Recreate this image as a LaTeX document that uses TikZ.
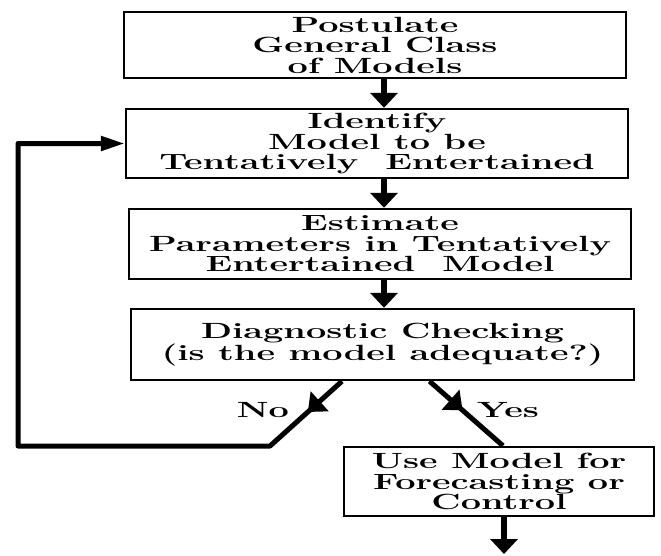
\documentclass[tikz,border=0pt]{standalone}
\usepackage{graphicx}
\usetikzlibrary{arrows.meta,decorations.markings}
\newcommand{\wl}[1]{\scalebox{1.64}[1]{#1}}
\begin{document}
\begin{tikzpicture}[x=1pt,y=-1pt,
  txt/.style={font=\fontsize{22}{20.5}\selectfont\bfseries},
  box/.style={txt, draw, line width=2.4pt, inner sep=0pt, align=center},
  conn/.style={line width=5.5pt, -{Triangle[width=27pt,length=15pt]}},
  fb/.style={line width=5pt, line join=round, -{Triangle[width=14pt,length=24pt]}},
  midarrow/.style={postaction={decorate}, decoration={markings,
     mark=at position #1 with {\arrow{Triangle[width=26pt,length=16pt]}}}}]
\useasboundingbox (0,0) rectangle (661,555);

\node[box, minimum width=502pt, minimum height=66pt] (b1) at (375,45)
  {\wl{Postulate}\\\wl{General Class}\\\wl{of Models}};
\node[box, minimum width=502pt, minimum height=69pt] (b2) at (377,143.5)
  {\wl{Identify}\\\wl{Model to be}\\\wl{Tentatively\ \ Entertained}};
\node[box, minimum width=502pt, minimum height=70pt] (b3) at (380,244)
  {\wl{Estimate}\\\wl{Parameters in Tentatively}\\\wl{Entertained\ \ Model}};
\node[box, minimum width=503pt, minimum height=71pt] (b4) at (382.5,344.5)
  {\wl{Diagnostic Checking}\\\wl{(is the model adequate?)}};
\node[box, minimum width=310pt, minimum height=69pt] (b5) at (499,481.5)
  {\wl{Use Model for}\\\wl{Forecasting or}\\\wl{Control}};

\node[txt] (no) at (263,410) {\wl{No}};
\node[txt] (yes) at (508,410) {\wl{Yes}};

\coordinate (n1) at (270,446);
\coordinate (n2) at (18,446);
\coordinate (n3) at (18,143.5);
\coordinate (out) at (504,554);

\draw[conn] ([xshift=9pt]b1.south) -- ([xshift=7pt]b2.north);
\draw[conn] ([xshift=7pt]b2.south) -- ([xshift=4pt]b3.north);
\draw[conn] ([xshift=4pt]b3.south) -- ([xshift=1.5pt]b4.north);

\draw[fb, midarrow=46pt] ([xshift=-40.5pt]b4.south) -- (n1) -- (n2) -- (n3) -- (b2.west);
\draw[line width=5pt, midarrow=44pt] ([xshift=47pt]b4.south) -- ([xshift=4pt]b5.north);
\draw[conn] ([xshift=5pt]b5.south) -- (out);
\end{tikzpicture}
\end{document}
